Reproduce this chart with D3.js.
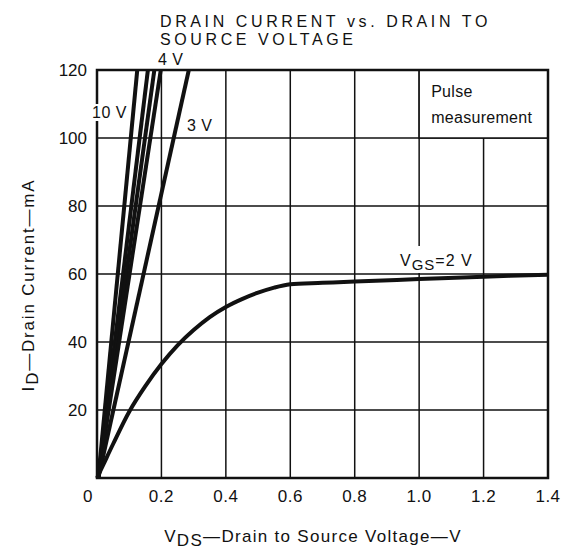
<!DOCTYPE html>
<html lang="en">
<head>
    <meta charset="utf-8">
    <title>Drain Current vs. Drain to Source Voltage</title>
    <script type="text/javascript" src="https://d3js.org/d3.v7.min.js"></script>
    <style type="text/css">
        body { margin: 0; background: #fff; }
        text { font-family: "Liberation Sans", Arial, sans-serif; fill: #111; }
    </style>
</head>
<body>
    <script type="text/javascript">

        const width = 564;
        const height = 554;
        const margin = { top: 70, right: 16, bottom: 76, left: 97 };

        // VGS = 2 V curve
        const vds2V = [0, 0.02, 0.05, 0.1, 0.15, 0.2, 0.25, 0.3, 0.35, 0.4, 0.45, 0.5, 0.55, 0.6, 0.7, 0.8, 1.0, 1.2, 1.4];
        const id2V  = [0, 4, 10, 19.5, 27, 33.5, 39, 43.5, 47.3, 50.3, 52.6, 54.5, 56, 57, 57.4, 57.8, 58.5, 59.2, 59.8];

        // steep lines, from the origin up to 120 mA
        const steepVgs = ["10 V", "6 V", "5 V", "4 V", "3 V"];
        const steepVdsStart = [0.004, 0.004, 0.004, 0.004, 0.004];
        const steepVdsAt120 = [0.125, 0.158, 0.178, 0.198, 0.285];

        const xTicks = [0, 0.2, 0.4, 0.6, 0.8, 1.0, 1.2, 1.4];
        const yTicks = [20, 40, 60, 80, 100, 120];

        const xScale = d3.scaleLinear()
                        .domain([0, 1.4])
                        .range([margin.left, width - margin.right]);

        const yScale = d3.scaleLinear()
                        .domain([0, 120])
                        .range([height - margin.bottom, margin.top]);

        const svg = d3.select("body")
                    .append("svg")
                    .attr("width", width)
                    .attr("height", height);

        // Grid
        const grid = svg.append("g")
            .attr("stroke", "#111")
            .attr("stroke-width", 1.5);

        grid.selectAll("line.v")
            .data(xTicks.slice(1, -1))
            .enter()
            .append("line")
            .attr("x1", d => xScale(d))
            .attr("x2", d => xScale(d))
            .attr("y1", yScale(0))
            .attr("y2", yScale(120));

        grid.selectAll("line.h")
            .data(yTicks.slice(0, -1))
            .enter()
            .append("line")
            .attr("x1", xScale(0))
            .attr("x2", xScale(1.4))
            .attr("y1", d => yScale(d))
            .attr("y2", d => yScale(d));

        // Pulse measurement box
        svg.append("rect")
            .attr("x", xScale(1.0))
            .attr("y", yScale(120))
            .attr("width", xScale(1.4) - xScale(1.0))
            .attr("height", yScale(100) - yScale(120))
            .attr("fill", "#fff")
            .attr("stroke", "#111")
            .attr("stroke-width", 1.5);

        svg.append("text")
            .attr("x", xScale(1.0) + 12)
            .attr("y", 97)
            .attr("font-size", 16)
            .attr("letter-spacing", 0.3)
            .text("Pulse");

        svg.append("text")
            .attr("x", xScale(1.0) + 12)
            .attr("y", 123)
            .attr("font-size", 16)
            .attr("letter-spacing", 0.3)
            .text("measurement");

        // Curves
        const line = d3.line()
            .x(d => xScale(d[0]))
            .y(d => yScale(d[1]))
            .curve(d3.curveCatmullRom);

        svg.selectAll("path.steep")
            .data(steepVgs)
            .enter()
            .append("path")
            .attr("d", (d, i) => line([[steepVdsStart[i], 0], [steepVdsAt120[i], 120]]))
            .attr("fill", "none")
            .attr("stroke", "#111")
            .attr("stroke-width", 4);

        svg.append("path")
            .attr("d", line(vds2V.map((v, i) => [v, id2V[i]])))
            .attr("fill", "none")
            .attr("stroke", "#111")
            .attr("stroke-width", 4);

        // Frame
        svg.append("rect")
            .attr("x", xScale(0))
            .attr("y", yScale(120))
            .attr("width", xScale(1.4) - xScale(0))
            .attr("height", yScale(0) - yScale(120))
            .attr("fill", "none")
            .attr("stroke", "#111")
            .attr("stroke-width", 2.5);

        // Curve labels
        svg.append("rect")
            .attr("x", 91).attr("y", 104)
            .attr("width", 34).attr("height", 17)
            .attr("fill", "#fff");
        svg.append("text")
            .attr("x", 92).attr("y", 118)
            .attr("font-size", 16)
            .attr("letter-spacing", 0.5)
            .text(steepVgs[0]);

        svg.append("text")
            .attr("x", 158).attr("y", 65)
            .attr("font-size", 16)
            .attr("letter-spacing", 0.5)
            .text(steepVgs[3]);

        svg.append("text")
            .attr("x", 187).attr("y", 131)
            .attr("font-size", 16)
            .attr("letter-spacing", 0.5)
            .text(steepVgs[4]);

        svg.append("rect")
            .attr("x", 398).attr("y", 246)
            .attr("width", 80).attr("height", 27)
            .attr("fill", "#fff");
        const vgsLabel = svg.append("text")
            .attr("x", 400).attr("y", 266)
            .attr("font-size", 16)
            .attr("letter-spacing", 1);
        vgsLabel.append("tspan").text("V");
        vgsLabel.append("tspan").attr("dy", 4).attr("font-size", 15).text("GS");
        vgsLabel.append("tspan").attr("dy", -4).text("=2 V");

        // Tick labels
        svg.selectAll("text.xt")
            .data(xTicks)
            .enter()
            .append("text")
            .attr("x", d => d === 0 ? xScale(d) - 9 : xScale(d))
            .attr("y", 502)
            .attr("text-anchor", "middle")
            .attr("font-size", 17)
            .attr("letter-spacing", 0.5)
            .text(d => d === 0 ? "0" : d.toFixed(1));

        svg.selectAll("text.yt")
            .data(yTicks)
            .enter()
            .append("text")
            .attr("x", 87)
            .attr("y", d => yScale(d) + 6)
            .attr("text-anchor", "end")
            .attr("font-size", 17)
            .text(d => d);

        // Title
        svg.append("text")
            .attr("x", 160).attr("y", 27)
            .attr("font-size", 16)
            .attr("letter-spacing", 3.6)
            .text("DRAIN CURRENT vs. DRAIN TO");
        svg.append("text")
            .attr("x", 160).attr("y", 45)
            .attr("font-size", 16)
            .attr("letter-spacing", 3.6)
            .text("SOURCE VOLTAGE");

        // Axis titles
        const xTitle = svg.append("text")
            .attr("x", 313).attr("y", 542)
            .attr("text-anchor", "middle")
            .attr("font-size", 17)
            .attr("letter-spacing", 1.3);
        xTitle.append("tspan").text("V");
        xTitle.append("tspan").attr("dy", 4).text("DS");
        xTitle.append("tspan").attr("dy", -4).text("\u2014Drain to Source Voltage\u2014V");

        const yTitle = svg.append("text")
            .attr("transform", "translate(34,285) rotate(-90)")
            .attr("text-anchor", "middle")
            .attr("font-size", 17)
            .attr("letter-spacing", 1.8);
        yTitle.append("tspan").text("I");
        yTitle.append("tspan").attr("dy", 4).text("D");
        yTitle.append("tspan").attr("dy", -4).text("\u2014Drain Current\u2014mA");
    </script>
</body>
</html>
